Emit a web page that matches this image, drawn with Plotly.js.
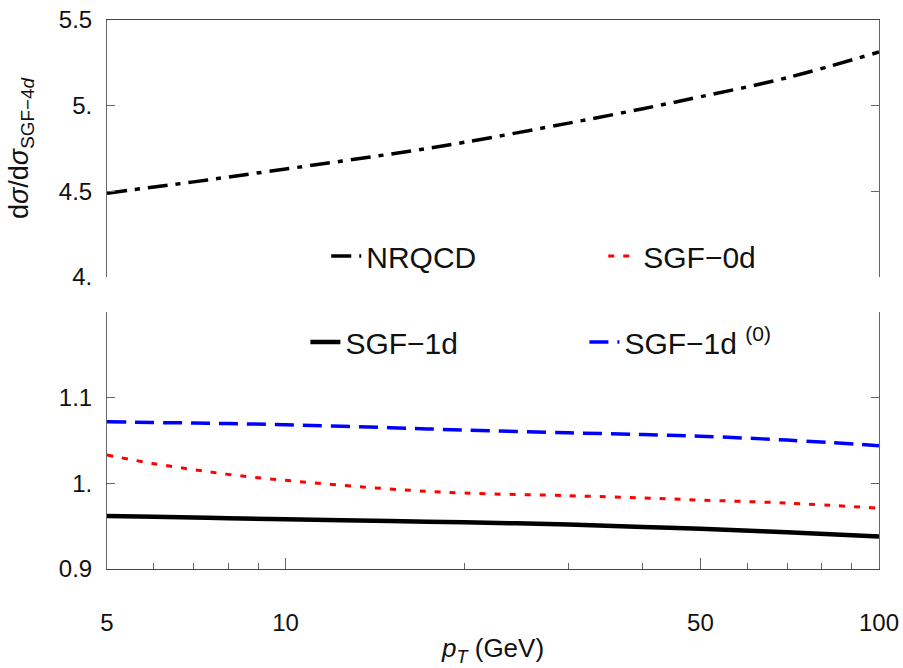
<!DOCTYPE html>
<html>
<head>
<meta charset="utf-8">
<script src="https://cdn.plot.ly/plotly-3.0.1.min.js"></script>
<style>html,body{margin:0;padding:0;background:#fff;}#chart{width:903px;height:668px;}</style>
</head>
<body>
<div id="chart"></div>
<script>
// pT values (GeV)
const pT = [5, 6, 7, 8, 10, 15, 20, 30, 40, 50, 70, 100];
// ratios dσ/dσ_SGF-4d
const nrqcd   = [4.489, 4.525, 4.555, 4.583, 4.630, 4.717, 4.786, 4.898, 4.982, 5.052, 5.163, 5.313];
const sgf0d   = [1.033, 1.023, 1.016, 1.0105, 1.0035, 0.9934, 0.9887, 0.9856, 0.9829, 0.9805, 0.977, 0.971];
const sgf1d   = [0.962, 0.961, 0.960, 0.9593, 0.958, 0.956, 0.9545, 0.952, 0.949, 0.947, 0.943, 0.938];
const sgf1d0  = [1.072, 1.071, 1.0705, 1.0698, 1.0685, 1.065, 1.0622, 1.059, 1.057, 1.055, 1.0505, 1.044];
const names   = ["NRQCD", "SGF\u22120d", "SGF\u22121d", "SGF\u22121d <sup>(0)</sup>"];
const xTicks  = [5, 10, 50, 100];
const xMinor  = [6, 7, 8, 9, 20, 30, 40, 60, 70, 80, 90];
const yTopTicks = [4, 4.5, 5, 5.5];
const yTopText  = ["4.", "4.5", "5.", "5.5"];
const yBotTicks = [0.9, 1.0, 1.1];
const yBotText  = ["0.9", "1.", "1.1"];
const yBotMinor = [1.2];

const FONT = "Liberation Sans, Arial, sans-serif";
const AX = "#666";

const traces = [
  {x: pT, y: nrqcd, xaxis: "x2", yaxis: "y2", mode: "lines", name: names[0], legend: "legend",
   line: {color: "#000", width: 3.5, dash: "20px,8px,5px,8px", shape: "spline"}},
  {x: pT, y: sgf0d, xaxis: "x", yaxis: "y", mode: "lines", name: names[1], legend: "legend",
   line: {color: "#ff0000", width: 3, dash: "6px,9px", shape: "spline"}},
  {x: pT, y: sgf1d, xaxis: "x", yaxis: "y", mode: "lines", name: names[2], legend: "legend2",
   line: {color: "#000", width: 4.5, shape: "spline"}},
  {x: pT, y: sgf1d0, xaxis: "x", yaxis: "y", mode: "lines", name: names[3], legend: "legend2",
   line: {color: "#0000ff", width: 3.5, dash: "19px,9px", shape: "spline"}}
];

const xr = [Math.log10(5), 2];
const layout = {
  width: 903, height: 668,
  margin: {l: 107, r: 24, t: 20, b: 99},
  paper_bgcolor: "#fff", plot_bgcolor: "#fff",
  font: {family: FONT, size: 24, color: "#111"},
  showlegend: true,
  xaxis: {
    type: "log", range: xr, domain: [0, 1], anchor: "y",
    tickmode: "array", tickvals: xTicks, ticktext: xTicks.map(String),
    ticks: "inside", ticklen: 11, tickcolor: AX, tickwidth: 1,
    minor: {tickmode: "array", tickvals: xMinor, ticks: "inside", ticklen: 6, tickcolor: AX},
    showline: true, linecolor: "#444", linewidth: 1, mirror: false,
    showgrid: false, zeroline: false, ticklabelstandoff: 32,
    tickfont: {size: 24},
    title: {text: "<i>p</i><sub><i>T</i></sub> (GeV)", font: {size: 26}, standoff: 4}
  },
  xaxis2: {
    type: "log", range: xr, domain: [0, 1], anchor: "y2", matches: "x", side: "top",
    showticklabels: false, ticks: "", showline: true, linecolor: "#444", linewidth: 1,
    showgrid: false, zeroline: false
  },
  yaxis: {
    domain: [0, 0.468], range: [0.9, 1.2], anchor: "x",
    tickmode: "array", tickvals: yBotTicks, ticktext: yBotText,
    ticks: "inside", ticklen: 8, tickcolor: AX, tickwidth: 1,
    minor: {tickmode: "array", tickvals: yBotMinor, ticks: "inside", ticklen: 8, tickcolor: AX},
    showline: true, linecolor: AX, linewidth: 1, mirror: "ticks",
    showgrid: false, zeroline: false, ticklabelstandoff: 9, tickfont: {size: 24}
  },
  yaxis2: {
    domain: [0.532, 1], range: [4, 5.5], anchor: "x2",
    tickmode: "array", tickvals: yTopTicks, ticktext: yTopText,
    ticks: "inside", ticklen: 8, tickcolor: AX, tickwidth: 1,
    showline: true, linecolor: AX, linewidth: 1, mirror: "ticks",
    showgrid: false, zeroline: false, ticklabelstandoff: 9, tickfont: {size: 24},
    title: {text: "d<i>\u03c3</i>/d<i>\u03c3</i><sub>SGF\u22124<i>d</i></sub>", font: {size: 27}, standoff: 22}
  },
  legend: {
    orientation: "h", x: 0.284, xanchor: "left", y: 0.57, yanchor: "middle",
    font: {size: 30, family: FONT, color: "#111"}, bgcolor: "rgba(0,0,0,0)",
    entrywidth: 232, entrywidthmode: "pixels", traceorder: "normal", itemwidth: 30
  },
  legend2: {
    orientation: "h", x: 0.257, xanchor: "left", y: 0.4135, yanchor: "middle",
    font: {size: 30, family: FONT, color: "#111"}, bgcolor: "rgba(0,0,0,0)",
    entrywidth: 234, entrywidthmode: "pixels", traceorder: "normal", itemwidth: 30
  }
};

Plotly.newPlot("chart", traces, layout, {displayModeBar: false, staticPlot: true});
</script>
</body>
</html>
